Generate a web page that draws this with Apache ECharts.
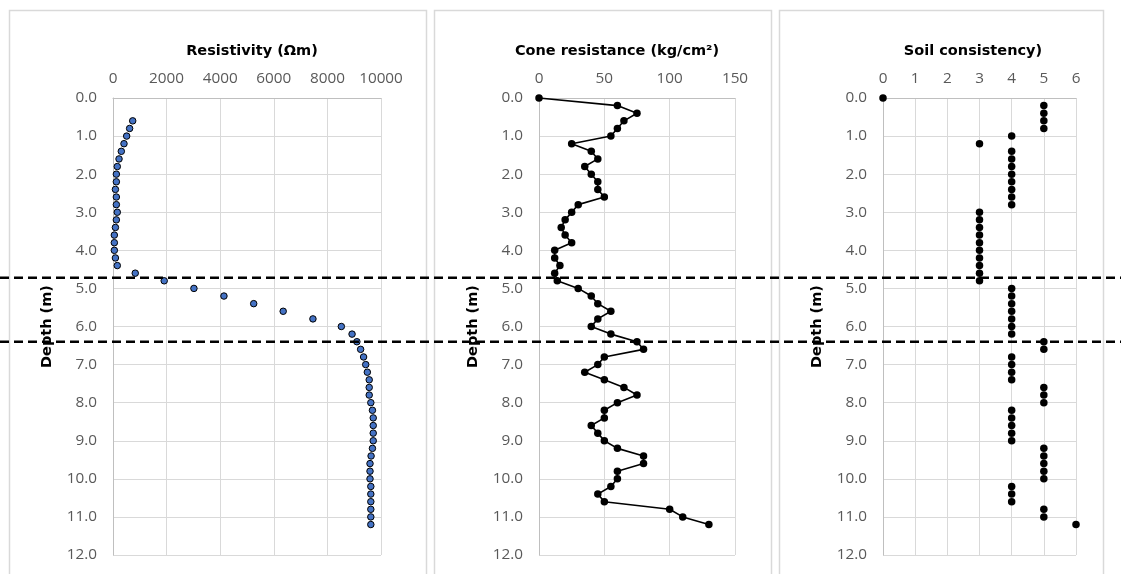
<!DOCTYPE html>
<html><head><meta charset="utf-8">
<script src="https://cdn.jsdelivr.net/npm/echarts@6/dist/echarts.min.js"></script>
<style>html,body{margin:0;padding:0;background:#fff}#c{width:1121px;height:574px}</style>
</head><body><div id="c"></div>
<script>
// ---- data ----
const depthRes = [0.6,0.8,1.0,1.2,1.4,1.6,1.8,2.0,2.2,2.4,2.6,2.8,3.0,3.2,3.4,3.6,3.8,4.0,4.2,4.4,
  4.6,4.8,5.0,5.2,5.4,5.6,5.8,6.0,6.2,6.4,6.6,6.8,7.0,7.2,7.4,7.6,7.8,8.0,8.2,8.4,8.6,8.8,9.0,
  9.2,9.4,9.6,9.8,10.0,10.2,10.4,10.6,10.8,11.0,11.2];
const resistivity = [735,620,510,410,310,225,160,125,125,90,125,125,160,125,90,50,50,50,90,160,
  830,1910,3020,4140,5250,6350,7460,8520,8920,9100,9240,9350,9430,9490,9560,9560,9560,9620,9680,9710,9710,9710,9710,
  9680,9630,9590,9590,9590,9620,9620,9620,9620,9620,9620];
const depthCone = [0.0,0.2,0.4,0.6,0.8,1.0,1.2,1.4,1.6,1.8,2.0,2.2,2.4,2.6,2.8,3.0,3.2,3.4,3.6,3.8,
  4.0,4.2,4.4,4.6,4.8,5.0,5.2,5.4,5.6,5.8,6.0,6.2,6.4,6.6,6.8,7.0,7.2,7.4,7.6,7.8,8.0,8.2,8.4,8.6,
  8.8,9.0,9.2,9.4,9.6,9.8,10.0,10.2,10.4,10.6,10.8,11.0,11.2];
const coneResistance = [0,60,75,65,60,55,25,40,45,35,40,45,45,50,30,25,20,17,20,25,
  12,12,16,12,14,30,40,45,55,45,40,55,75,80,50,45,35,50,65,75,60,50,50,40,
  45,50,60,80,80,60,60,55,45,50,100,110,130];
const soilConsistency = [0,5,5,5,5,4,3,4,4,4,4,4,4,4,4,3,3,3,3,3,
  3,3,3,3,3,4,4,4,4,4,4,4,5,5,4,4,4,4,5,5,5,4,4,4,
  4,4,5,5,5,5,5,4,4,4,5,5,6];
const boundaryDepths = [4.72, 6.40];
const panelTitles = ['Resistivity (Ωm)', 'Cone resistance (kg/cm²)', 'Soil consistency)'];
const yAxisName = 'Depth (m)';

// ---- chart ----
const TITLE_FONT = 'DejaVu Sans';
const LABEL_FONT = 'Open Sans';
const chart = echarts.init(document.getElementById('c'));
const grids = [
  {left:113, top:98, width:268, height:457},
  {left:539, top:98, width:196, height:457},
  {left:883, top:98, width:193, height:457}
];
const xCfg = [[0,10000,2000],[0,150,50],[0,6,1]];
const titleCenters = [247, 612, 968];

function pair(d, v){ return d.map((dd,i)=>[v[i], dd]); }

const option = {
  animation:false,
  backgroundColor:'#fff',
  title: panelTitles.map((t,i)=>({
    text:t, left:titleCenters[i], top:39, textAlign:'center',
    textStyle:{fontFamily:TITLE_FONT, fontSize:14.5, fontWeight:'bold', color:'#000'}
  })),
  grid: grids,
  xAxis: xCfg.map((c,i)=>({
    gridIndex:i, type:'value', position:'top', min:c[0], max:c[1], interval:c[2],
    axisLine:{show:true, lineStyle:{color:'#bfbfbf', width:1}},
    axisTick:{show:false},
    axisLabel:{fontFamily:LABEL_FONT, fontSize:15.3, color:'#595959', margin:12,
      formatter:v=>String(v)},
    splitLine:{show:true, lineStyle:{color:'#d9d9d9', width:1}}
  })),
  yAxis: grids.map((g,i)=>({
    gridIndex:i, type:'value', inverse:true, min:0, max:12, interval:1,
    name:yAxisName, nameLocation:'middle', nameGap:58, nameRotate:90,
    nameTextStyle:{fontFamily:TITLE_FONT, fontSize:14.5, fontWeight:'bold', color:'#000'},
    axisLine:{show:true, onZero:false, lineStyle:{color:'#bfbfbf', width:1}},
    axisTick:{show:false},
    axisLabel:{fontFamily:LABEL_FONT, fontSize:15.3, color:'#595959', margin:16,
      formatter:v=>v.toFixed(1)},
    splitLine:{show:true, lineStyle:{color:'#d9d9d9', width:1}}
  })),
  series: [
    {type:'scatter', xAxisIndex:0, yAxisIndex:0, data:pair(depthRes, resistivity),
     symbolSize:6.5, clip:false,
     itemStyle:{color:'#4472C4', borderColor:'#000', borderWidth:1, opacity:1}},
    {type:'line', xAxisIndex:1, yAxisIndex:1, data:pair(depthCone, coneResistance),
     symbol:'circle', symbolSize:7.5, showSymbol:true, clip:false,
     lineStyle:{color:'#000', width:1.6}, itemStyle:{color:'#000', opacity:1}},
    {type:'scatter', xAxisIndex:2, yAxisIndex:2, data:pair(depthCone, soilConsistency),
     symbolSize:7.5, clip:false, itemStyle:{color:'#000', opacity:1}}
  ]
};
chart.setOption(option);

const panels = [[9,10,417,600],[434,10,337,600],[779,10,324,600]];
const graphics = panels.map(p=>({
  type:'rect', shape:{x:p[0]+0.5,y:p[1]+0.5,width:p[2],height:p[3]},
  style:{fill:null, stroke:'#d9d9d9', lineWidth:1.5}, z:0, silent:true
}));
boundaryDepths.forEach(d=>{
  const y = chart.convertToPixel({yAxisIndex:0}, d);
  graphics.push({type:'line', shape:{x1:0,y1:y,x2:1121,y2:y},
    style:{stroke:'#000', lineWidth:2.5, lineDash:[9,5]}, z:100, silent:true});
});
chart.setOption({graphic:graphics});
</script>
</body></html>
